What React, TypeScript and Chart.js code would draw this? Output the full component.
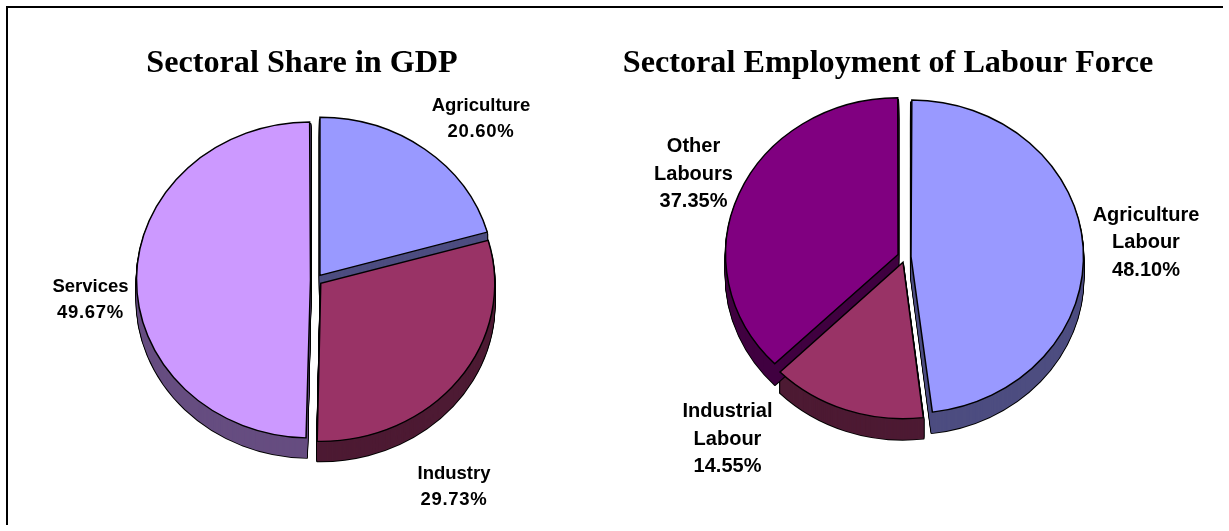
import React, { useEffect, useRef } from "react";
import { Chart, registerables } from "chart.js";

Chart.register(...registerables);

const gdpTitle = "Sectoral Share in GDP";
const gdpCategories = ["Agriculture", "Industry", "Services"];
const gdpValues = [20.6, 29.73, 49.67];
const gdpColors = ["#9999FF", "#993366", "#CC99FF"];
const gdpSides = ["#4D4D80", "#4D1A33", "#664D80"];
const gdpOffsets = [6.5, 6, 5.5];

const labourTitle = "Sectoral Employment of Labour Force";
const labourCategories = ["Agriculture Labour", "Industrial Labour", "Other Labours"];
const labourValues = [48.1, 14.55, 37.35];
const labourColors = ["#9999FF", "#993366", "#800080"];
const labourSides = ["#4D4D80", "#4D1A33", "#400040"];
const labourOffsets = [6, 6, 7.5];

const Y_SCALE = 0.908;
// Chart.js moves an arc by a quarter of its `offset` option.
const OFFSET_FACTOR = 4;
const TITLE_FONT = 'bold 32.2px "Liberation Serif", "Times New Roman", serif';

function makePlugin(cfg: any) {
  return {
    id: "pie3d",
    afterDatasetsUpdate(chart: any) {
      // Chart.js also grows a shifted arc's radius; undo that so every slice has the same radius.
      chart.getDatasetMeta(0).data.forEach((a: any) => {
        const off = (a.options.offset || 0) / OFFSET_FACTOR;
        const fix = 1 - Math.sin(Math.min(Math.PI, a.circumference || 0));
        a.outerRadius = cfg.radius - off * fix;
      });
    },
    beforeDatasetsDraw(chart: any) {
      const ctx = chart.ctx;
      const meta = chart.getDatasetMeta(0);
      const cx = meta.data[0].x;
      const cy = meta.data[0].y;
      ctx.save();
      ctx.translate(cx, cy);
      ctx.scale(1, Y_SCALE);
      ctx.translate(-cx, -cy);
      const path = (a: any, d: number) => {
        const mid = (a.startAngle + a.endAngle) / 2;
        const off = (a.options.offset || 0) / OFFSET_FACTOR;
        const x = a.x + Math.cos(mid) * off;
        const y = a.y + Math.sin(mid) * off + d / Y_SCALE;
        ctx.beginPath();
        ctx.moveTo(x, y);
        ctx.arc(x, y, cfg.radius, a.startAngle, a.endAngle);
        ctx.closePath();
      };
      meta.data.forEach((a: any, i: number) => {
        ctx.strokeStyle = "#000";
        ctx.lineWidth = 2;
        ctx.lineJoin = "round";
        for (let d = cfg.depth; d >= 2; d -= 1) {
          path(a, d);
          ctx.stroke();
        }
        ctx.fillStyle = cfg.sides[i];
        for (let d = cfg.depth; d >= 2; d -= 1) {
          path(a, d);
          ctx.fill();
        }
      });
    },
    afterDatasetsDraw(chart: any) {
      const ctx = chart.ctx;
      ctx.restore();
      ctx.save();
      ctx.fillStyle = "#000";
      ctx.textAlign = "center";
      ctx.textBaseline = "middle";
      ctx.font = TITLE_FONT;
      ctx.fillText(cfg.title, cfg.titleX, cfg.titleY);
      ctx.font = cfg.labelFont;
      cfg.labels.forEach((lab: any) => {
        lab.lines.forEach((t: string, j: number) => {
          (ctx as any).letterSpacing = t.endsWith("%") ? cfg.valueSpacing : "0px";
          ctx.fillText(t, lab.x, lab.y + j * cfg.lineHeight);
        });
      });
      ctx.restore();
    },
  };
}

function makeChart(canvas: HTMLCanvasElement, cfg: any) {
  return new Chart(canvas, {
    type: "pie",
    data: {
      labels: cfg.categories,
      datasets: [
        {
          data: cfg.values,
          backgroundColor: cfg.colors,
          borderColor: "#000",
          borderWidth: 1.5,
          borderJoinStyle: "miter",
          offset: cfg.offsets.map((o: number) => o * OFFSET_FACTOR),
          hoverOffset: 0,
        } as any,
      ],
    },
    options: {
      animation: false,
      responsive: false,
      devicePixelRatio: 1,
      events: [],
      radius: cfg.radius,
      layout: { padding: cfg.padding },
      plugins: { legend: { display: false }, tooltip: { enabled: false }, title: { display: false } },
    } as any,
    plugins: [makePlugin(cfg)],
  });
}

const leftCfg = {
  title: gdpTitle,
  titleX: 302,
  titleY: 64,
  categories: gdpCategories,
  values: gdpValues,
  colors: gdpColors,
  sides: gdpSides,
  offsets: gdpOffsets,
  radius: 174,
  depth: 20,
  labelFont: 'bold 18.5px "Liberation Sans", Arial, sans-serif',
  valueSpacing: "0.7px",
  lineHeight: 26,
  padding: { left: 0, right: 597, top: 29, bottom: 0 },
  labels: [
    { lines: ["Agriculture", "20.60%"], x: 481, y: 105.5 },
    { lines: ["Industry", "29.73%"], x: 454, y: 474 },
    { lines: ["Services", "49.67%"], x: 90.5, y: 287 },
  ],
};

const rightCfg = {
  title: labourTitle,
  titleX: 888,
  titleY: 64,
  categories: labourCategories,
  values: labourValues,
  colors: labourColors,
  sides: labourSides,
  offsets: labourOffsets,
  radius: 172.5,
  depth: 21,
  labelFont: 'bold 20px "Liberation Sans", Arial, sans-serif',
  valueSpacing: "0px",
  lineHeight: 27.5,
  padding: { left: 581, right: 0, top: 0, bottom: 17 },
  labels: [
    { lines: ["Agriculture", "Labour", "48.10%"], x: 1146, y: 215 },
    { lines: ["Industrial", "Labour", "14.55%"], x: 727.5, y: 411.5 },
    { lines: ["Other", "Labours", "37.35%"], x: 693.5, y: 146.5 },
  ],
};

export default function App() {
  const leftRef = useRef<HTMLCanvasElement>(null);
  const rightRef = useRef<HTMLCanvasElement>(null);
  useEffect(() => {
    const a = makeChart(leftRef.current!, leftCfg);
    const b = makeChart(rightRef.current!, rightCfg);
    return () => {
      a.destroy();
      b.destroy();
    };
  }, []);
  const cv: React.CSSProperties = { position: "absolute", left: 0, top: 0 };
  return (
    <div style={{ position: "fixed", inset: 0, background: "#fff", overflow: "hidden" }}>
      <div style={{ position: "absolute", left: 6, top: 6, width: 1215, height: 517, borderLeft: "2px solid #000", borderTop: "2px solid #000" }} />
      <canvas ref={leftRef} width={1229} height={531} style={cv} />
      <canvas ref={rightRef} width={1229} height={531} style={cv} />
    </div>
  );
}
